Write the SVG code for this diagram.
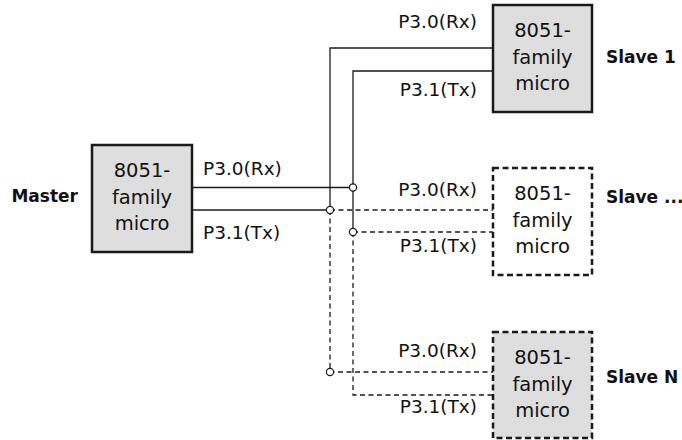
<svg xmlns="http://www.w3.org/2000/svg" width="682" height="440" viewBox="0 0 682 440">
<style>
.box{fill:#dedede;stroke:#1a1a1a;stroke-width:2.5}
.boxd{stroke-dasharray:6 3.5}
.nf{fill:#ffffff}
.t{font-family:"DejaVu Sans","Liberation Sans",sans-serif;font-size:18.5px;fill:#111}
.c{text-anchor:middle;font-size:19.5px}
.e{text-anchor:end}
.b{font-weight:bold;font-size:17px}
.w{fill:none;stroke:#1a1a1a;stroke-width:1.3}
.d{stroke-dasharray:5 3.5}
.j{fill:#fff;stroke:#1a1a1a;stroke-width:1.2}
</style>
<rect width="682" height="440" fill="#fff"/>
<g id="connectors">
<path class="w" d="M192,187.5 H353 V232"/>
<path class="w" d="M192,210 H330"/>
<path class="w" d="M330,210 V48 H493"/>
<path class="w" d="M353,187.5 V71 H493"/>
<path class="w d" d="M330,210 H493"/>
<path class="w d" d="M353,232 H493"/>
<path class="w d" d="M330,210 V372 H493"/>
<path class="w d" d="M353,232 V395 H493"/>
<circle class="j" cx="353" cy="187.5" r="3.6"/>
<circle class="j" cx="330" cy="210" r="3.6"/>
<circle class="j" cx="353" cy="232" r="3.6"/>
<circle class="j" cx="330" cy="372" r="3.6"/>
<text class="t" x="203" y="175">P3.0(Rx)</text>
<text class="t" x="203" y="239">P3.1(Tx)</text>
<text class="t e" x="477" y="28">P3.0(Rx)</text>
<text class="t e" x="477" y="96">P3.1(Tx)</text>
<text class="t e" x="477" y="196">P3.0(Rx)</text>
<text class="t e" x="477" y="252">P3.1(Tx)</text>
<text class="t e" x="477" y="357">P3.0(Rx)</text>
<text class="t e" x="477" y="413">P3.1(Tx)</text>
</g>
<g id="master">
<rect class="box" x="92" y="145" width="100" height="107"/>
<text class="t c" x="142" y="177">8051-</text>
<text class="t c" x="142" y="203.5">family</text>
<text class="t c" x="142" y="230">micro</text>
<text class="t b e" x="78" y="202">Master</text>
</g>
<g id="slave1">
<rect class="box" x="493" y="5" width="99" height="107"/>
<text class="t c" x="542.5" y="37">8051-</text>
<text class="t c" x="542.5" y="63.5">family</text>
<text class="t c" x="542.5" y="90">micro</text>
<text class="t b" x="606" y="63">Slave 1</text>
</g>
<g id="slave2">
<rect class="box boxd nf" x="493" y="168" width="99" height="107"/>
<text class="t c" x="542.5" y="200">8051-</text>
<text class="t c" x="542.5" y="226.5">family</text>
<text class="t c" x="542.5" y="253">micro</text>
<text class="t b" x="606" y="203">Slave ...</text>
</g>
<g id="slaveN">
<rect class="box boxd" x="493" y="332" width="99" height="106"/>
<text class="t c" x="542.5" y="364">8051-</text>
<text class="t c" x="542.5" y="390.5">family</text>
<text class="t c" x="542.5" y="417">micro</text>
<text class="t b" x="606" y="383">Slave N</text>
</g>
</svg>
